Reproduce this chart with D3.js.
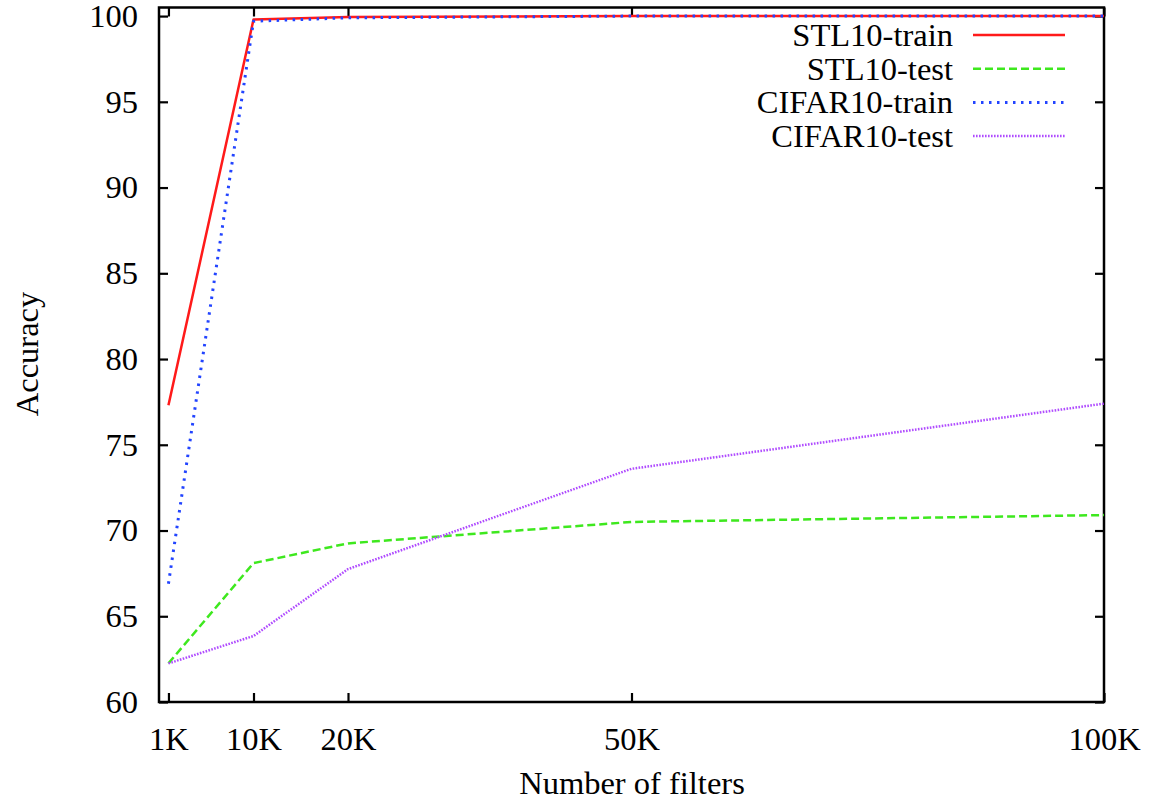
<!DOCTYPE html>
<html>
<head>
<meta charset="utf-8">
<script src="https://cdn.jsdelivr.net/npm/d3@7"></script>
<style>
  body { margin: 0; background: #fff; }
  text { font-family: "Liberation Serif", "Times New Roman", serif; fill: #000; }
</style>
</head>
<body>
<svg width="1150" height="801"></svg>
<script>
// data
var filters = [1000, 10000, 20000, 50000, 100000];
var stlTrain = [77.3, 99.8, 99.95, 100, 100];
var stlTest = [62.25, 68.1, 69.25, 70.5, 70.9];
var cifarTrain = [66.9, 99.7, 99.9, 100, 100];
var cifarTest = [62.25, 63.85, 67.75, 73.6, 77.4];

var xTicks = [1000, 10000, 20000, 50000, 100000];
var xTickLabels = ["1K", "10K", "20K", "50K", "100K"];
var yTicks = [60, 65, 70, 75, 80, 85, 90, 95, 100];

var series = [
  {name: "STL10-train", values: stlTrain, color: "#ff1a1a", dash: null, width: 2.5},
  {name: "STL10-test", values: stlTest, color: "#3ee81e", dash: "8,4", width: 2.5},
  {name: "CIFAR10-train", values: cifarTrain, color: "#2244ff", dash: "2.5,5.5", width: 3},
  {name: "CIFAR10-test", values: cifarTest, color: "#b04cff", dash: "1.6,1.4", width: 2.5}
];

var svg = d3.select("svg");
var plotLeft = 159, plotRight = 1104, plotTop = 7.5, plotBottom = 702;
var fontSize = 32.5;

var x = d3.scaleLinear().domain([0, 100000]).range([plotLeft, plotRight]);
var y = d3.scaleLinear().domain([60, 100.5]).range([plotBottom, plotTop]);

// axes with inward ticks, mirrored on top and right
svg.append("g")
  .attr("transform", "translate(0," + plotBottom + ")")
  .call(d3.axisBottom(x).tickValues(xTicks)
    .tickFormat(function(d, i) { return xTickLabels[i]; })
    .tickSizeInner(-9).tickSizeOuter(0).tickPadding(25));

svg.append("g")
  .attr("transform", "translate(0," + plotTop + ")")
  .call(d3.axisTop(x).tickValues(xTicks).tickFormat("")
    .tickSizeInner(-9).tickSizeOuter(0));

svg.append("g")
  .attr("transform", "translate(" + plotLeft + ",0)")
  .call(d3.axisLeft(y).tickValues(yTicks)
    .tickSizeInner(-9).tickSizeOuter(0).tickPadding(21));

svg.append("g")
  .attr("transform", "translate(" + plotRight + ",0)")
  .call(d3.axisRight(y).tickValues(yTicks).tickFormat("")
    .tickSizeInner(-9).tickSizeOuter(0));

svg.selectAll(".domain").remove();
svg.selectAll(".tick line").attr("stroke", "#000").attr("stroke-width", 2.2);
svg.selectAll(".tick text")
  .style("font-family", "'Liberation Serif', serif")
  .style("font-size", fontSize + "px")
  .attr("fill", "#000");

// frame
svg.append("rect")
  .attr("x", plotLeft).attr("y", plotTop)
  .attr("width", plotRight - plotLeft).attr("height", plotBottom - plotTop)
  .attr("fill", "none").attr("stroke", "#000").attr("stroke-width", 2.5);

var line = d3.line()
  .x(function(d, i) { return x(filters[i]); })
  .y(function(d) { return y(d); });

svg.append("g").selectAll("path")
  .data(series)
  .enter().append("path")
  .attr("d", function(d) { return line(d.values); })
  .attr("fill", "none")
  .attr("stroke", function(d) { return d.color; })
  .attr("stroke-width", function(d) { return d.width; })
  .attr("stroke-dasharray", function(d) { return d.dash; })
  .attr("stroke-linejoin", "round");

// legend
var legend = svg.append("g").selectAll("g")
  .data(series)
  .enter().append("g")
  .attr("transform", function(d, i) { return "translate(0," + (35 + i * 33.7) + ")"; });

legend.append("text")
  .attr("x", 953)
  .attr("dy", "0.34em")
  .attr("text-anchor", "end")
  .style("font-size", fontSize + "px")
  .text(function(d) { return d.name; });

legend.append("line")
  .attr("x1", 973).attr("x2", 1065)
  .attr("stroke", function(d) { return d.color; })
  .attr("stroke-width", function(d) { return d.width; })
  .attr("stroke-dasharray", function(d) { return d.dash; });

// axis titles
svg.append("text")
  .attr("transform", "translate(38,354) rotate(-90)")
  .attr("text-anchor", "middle")
  .style("font-size", fontSize + "px")
  .text("Accuracy");

svg.append("text")
  .attr("x", 632).attr("y", 794)
  .attr("text-anchor", "middle")
  .style("font-size", fontSize + "px")
  .text("Number of filters");
</script>
</body>
</html>
